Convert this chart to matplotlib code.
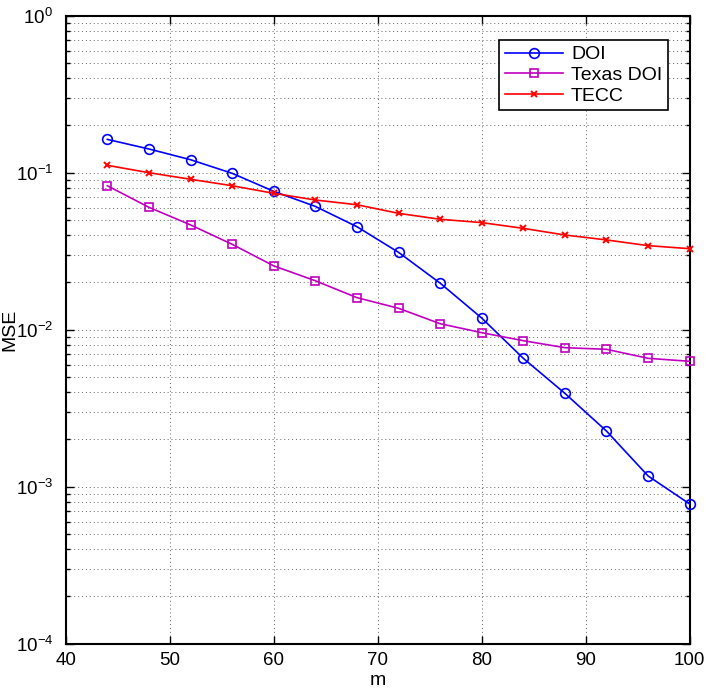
import numpy as np
import matplotlib
matplotlib.use('Agg')
import matplotlib.pyplot as plt
from matplotlib.ticker import LogLocator, NullFormatter

plt.rcParams['font.family'] = ['Liberation Sans', 'DejaVu Sans']
plt.rcParams['mathtext.fontset'] = 'custom'
plt.rcParams['mathtext.rm'] = 'Liberation Sans'

# data
m = [44, 48, 52, 56, 60, 64, 68, 72, 76, 80, 84, 88, 92, 96, 100]
doi = [0.163, 0.1416, 0.121, 0.0991, 0.0761, 0.0610, 0.0453, 0.0311, 0.0198,
       0.01186, 0.00657, 0.00393, 0.00226, 0.00117, 0.000776]
texas_doi = [0.0826, 0.0602, 0.0465, 0.0350, 0.0255, 0.0205, 0.0160, 0.01369,
             0.01092, 0.00957, 0.00851, 0.00768, 0.00750, 0.00657, 0.00629]
tecc = [0.1114, 0.100, 0.0908, 0.0826, 0.0739, 0.0670, 0.0625, 0.0551, 0.0505,
        0.0481, 0.0442, 0.0401, 0.0373, 0.0343, 0.0328]

fig = plt.figure(figsize=(7.06, 6.89), dpi=100)
ax = fig.add_axes([0.0931, 0.0658, 0.9769 - 0.0931, 0.9772 - 0.0658])

ax.plot(m, doi, color='#0000ff', lw=1.2, marker='o', markersize=7,
        markerfacecolor='none', markeredgewidth=1.2, label='DOI', clip_on=False, zorder=3)
ax.plot(m, texas_doi, color='#c000c0', lw=1.2, marker='s', markersize=6,
        markerfacecolor='none', markeredgewidth=1.2, label='Texas DOI', clip_on=False, zorder=3)
ax.plot(m, tecc, color='#ff0000', lw=1.2, marker='x', markersize=5,
        markeredgewidth=1.4, label='TECC', clip_on=False, zorder=3)

ax.set_yscale('log')
ax.set_xlim(40, 100)
ax.set_ylim(1e-4, 1)
ax.set_xticks([40, 50, 60, 70, 80, 90, 100])
ax.yaxis.set_major_locator(LogLocator(base=10, numticks=10))
ax.yaxis.set_minor_locator(LogLocator(base=10, subs=np.arange(2, 10), numticks=50))
ax.yaxis.set_minor_formatter(NullFormatter())

# matlab style dotted grid
ax.grid(True, which='major', axis='both', linestyle=(0, (1, 3)), color='#666666', lw=0.7)
ax.grid(True, which='minor', axis='y', linestyle=(0, (1, 3)), color='#666666', lw=0.7)

ax.tick_params(which='both', direction='in', top=True, right=True, labelsize=13.5, width=1)
ax.tick_params(which='major', length=6)
ax.tick_params(which='minor', length=3)
ax.tick_params(axis='x', pad=6)
ax.tick_params(axis='y', pad=9)
for s in ax.spines.values():
    s.set_linewidth(1.5)

ax.set_xlabel('m', fontsize=14)
ax.set_ylabel('MSE', fontsize=14)
ax.xaxis.set_label_coords(0.5, -0.0594, transform=ax.transAxes)
ax.xaxis.label.set_va('center')
ax.yaxis.set_label_coords(-0.0893, 0.5, transform=ax.transAxes)
ax.yaxis.label.set_va('center')

leg = ax.legend(loc='upper right', bbox_to_anchor=(0.9652, 0.9613), fontsize=14,
                fancybox=False, framealpha=1, edgecolor='black', borderpad=0.3,
                handlelength=3.0, labelspacing=0.15, handletextpad=0.4, borderaxespad=0)
leg.get_frame().set_linewidth(1.2)

fig.savefig('out.png', dpi=100)
